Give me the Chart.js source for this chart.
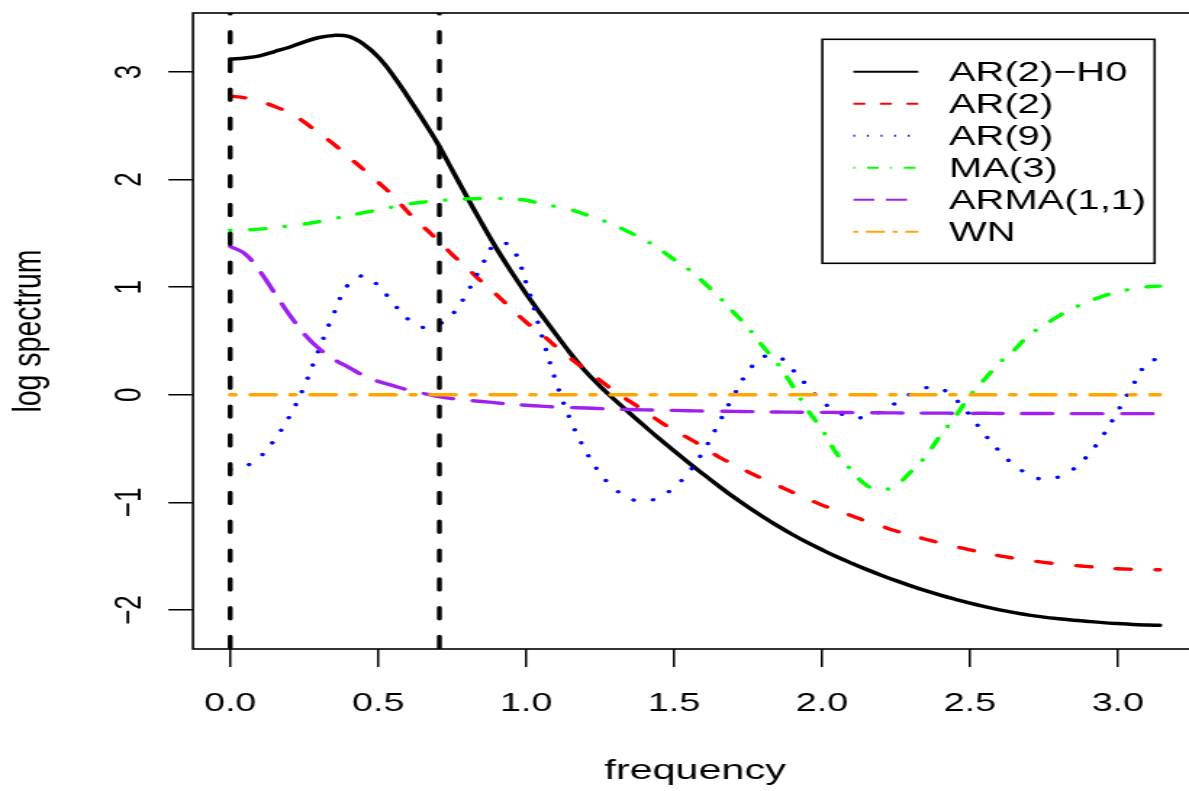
<!DOCTYPE html>
<html><head><meta charset="utf-8">
<script src="https://cdn.jsdelivr.net/npm/chart.js@4.4.1/dist/chart.umd.min.js"></script>
<style>
html,body{margin:0;padding:0;background:#fff;overflow:hidden;width:1189px;height:791px;}
#wrap{position:absolute;left:0;top:0;width:832px;height:791px;transform:scaleX(1.45);transform-origin:0 0;}
canvas{display:block;}
</style></head><body>
<div id="wrap"><canvas id="c" width="832" height="791"></canvas></div>
<script>
// ---------------- data ----------------
const freq = [0,0.05,0.1,0.15,0.2,0.25,0.3,0.35,0.4,0.45,0.5,0.55,0.6,0.65,0.7,0.75,0.8,0.85,0.9,0.95,
  1.0,1.05,1.1,1.15,1.2,1.25,1.3,1.35,1.4,1.45,1.5,1.55,1.6,1.65,1.7,1.75,1.8,1.85,1.9,1.95,
  2.0,2.05,2.1,2.15,2.2,2.25,2.3,2.35,2.4,2.45,2.5,2.55,2.6,2.65,2.7,2.75,2.8,2.85,2.9,2.95,
  3.0,3.05,3.1,3.1416];

const ar2H0 = [3.12,3.13,3.15,3.19,3.23,3.28,3.32,3.34,3.33,3.26,3.14,2.97,2.77,2.56,2.34,2.09,1.84,1.595,1.36,1.145,
  0.94,0.75,0.565,0.385,0.22,0.08,-0.048,-0.17,-0.29,-0.408,-0.522,-0.633,-0.74,-0.845,-0.948,-1.043,-1.133,-1.218,-1.298,-1.372,
  -1.44,-1.505,-1.565,-1.622,-1.676,-1.727,-1.775,-1.82,-1.862,-1.9,-1.936,-1.968,-1.998,-2.024,-2.047,-2.066,-2.081,-2.094,-2.106,-2.117,
  -2.126,-2.134,-2.139,-2.142];

const ar2 = [2.775,2.76,2.725,2.68,2.62,2.535,2.43,2.33,2.21,2.095,1.975,1.85,1.70,1.57,1.44,1.305,1.18,1.05,0.93,0.80,
  0.675,0.57,0.45,0.34,0.235,0.135,0.03,-0.06,-0.15,-0.245,-0.33,-0.405,-0.485,-0.575,-0.645,-0.715,-0.78,-0.842,-0.905,-0.965,
  -1.025,-1.075,-1.123,-1.175,-1.22,-1.265,-1.305,-1.342,-1.377,-1.41,-1.44,-1.47,-1.496,-1.518,-1.539,-1.557,-1.572,-1.585,-1.596,-1.607,
  -1.616,-1.621,-1.625,-1.626];

const ar9 = [-0.695,-0.665,-0.58,-0.416,-0.203,0.079,0.42,0.755,1.03,1.105,1.015,0.855,0.705,0.627,0.65,0.745,0.945,1.20,1.41,1.375,
  1.04,0.58,0.13,-0.235,-0.515,-0.73,-0.875,-0.965,-0.987,-0.952,-0.86,-0.72,-0.52,-0.27,-0.015,0.215,0.35,0.36,0.235,0.085,
  -0.06,-0.155,-0.21,-0.205,-0.155,-0.075,0.01,0.065,0.06,-0.038,-0.19,-0.368,-0.525,-0.655,-0.74,-0.788,-0.762,-0.69,-0.557,-0.377,
  -0.15,0.086,0.298,0.34];

const ma3 = [1.529,1.532,1.54,1.553,1.57,1.587,1.61,1.637,1.664,1.692,1.719,1.746,1.772,1.79,1.803,1.814,1.821,1.825,1.825,1.82,
  1.808,1.777,1.75,1.72,1.676,1.63,1.573,1.51,1.44,1.355,1.257,1.165,1.045,0.915,0.77,0.625,0.45,0.29,0.085,-0.135,
  -0.323,-0.547,-0.70,-0.84,-0.885,-0.84,-0.715,-0.572,-0.378,-0.205,-0.008,0.146,0.297,0.418,0.555,0.646,0.733,0.806,0.864,0.918,
  0.955,0.985,1.004,1.01];

const arma11 = [1.38,1.31,1.15,0.945,0.745,0.565,0.43,0.33,0.255,0.18,0.125,0.085,0.045,0.015,-0.015,-0.035,-0.05,-0.062,-0.075,-0.088,
  -0.097,-0.105,-0.113,-0.118,-0.123,-0.128,-0.133,-0.137,-0.14,-0.143,-0.145,-0.148,-0.15,-0.152,-0.154,-0.156,-0.158,-0.16,-0.161,-0.162,
  -0.163,-0.164,-0.165,-0.166,-0.167,-0.168,-0.169,-0.17,-0.17,-0.171,-0.172,-0.172,-0.173,-0.173,-0.174,-0.174,-0.174,-0.175,-0.175,-0.175,
  -0.175,-0.175,-0.175,-0.175];

const wnFreq = [0, 3.1416];
const wn = [0, 0];

const vlines = [0, 0.707];

const seriesNames = ['AR(2)\u2212H0','AR(2)','AR(9)','MA(3)','ARMA(1,1)','WN'];
const xTicksStep = 0.5;
const yTicksStep = 1;
const X_MIN = -0.1257, X_MAX = 3.2673;
const Y_MIN = -2.362, Y_MAX = 3.548;

// ---------------- styles ----------------
const colors = ['#000000','#FF0000','#0000FF','#00FF00','#A020F0','#FFA500'];
const dashes = [[], [10.4,17.2], [0.05,13.75], [0.05,13.75,10.4,13.75], [20.75,13.75], [3.5,10.3,17.3,10.3]];
const legendDashes = [[], [8.3,10], [1.2,8.2], [1.2,8.3,8.1,7.7], [14.5,8], [3.4,5.3,13.1,5.3]];
const FONT = "'Liberation Sans', Arial, Helvetica, sans-serif";

const pts = (xs, ys) => xs.map((x, i) => ({x: x, y: ys[i]}));
const seriesData = [pts(freq, ar2H0), pts(freq, ar2), pts(freq, ar9), pts(freq, ma3), pts(freq, arma11), pts(wnFreq, wn)];

const datasets = seriesData.map((d, i) => ({
  label: seriesNames[i],
  data: d,
  borderColor: colors[i],
  borderWidth: i === 0 ? 3.5 : 3.4,
  borderDash: dashes[i],
  borderCapStyle: 'round',
  borderJoinStyle: 'round',
  pointRadius: 0,
  fill: false,
  tension: 0.4,
  order: 10 - i
}));
vlines.forEach((v) => {
  datasets.push({
    label: '_v' + v,
    data: [{x: v, y: Y_MAX}, {x: v, y: Y_MIN}],
    borderColor: '#000',
    borderWidth: 3.4,
    borderDash: [11, 17.8],
    borderDashOffset: 10.1,
    borderCapStyle: 'round',
    pointRadius: 0,
    tension: 0,
    fill: false,
    order: 1
  });
});

const boxPlugin = {
  id: 'rbox',
  afterDatasetsDraw(chart) {
    const a = chart.chartArea, ctx = chart.ctx;
    ctx.save();
    ctx.strokeStyle = '#000';
    ctx.lineWidth = 1.6;
    ctx.strokeRect(a.left, a.top, a.right - a.left, a.bottom - a.top);
    ctx.restore();
  }
};

const legendPlugin = {
  id: 'rlegend',
  afterDraw(chart) {
    const ctx = chart.ctx;
    const L = {left: 567.1, top: 39.3, right: 796.3, bottom: 263.3, x1: 588.5, x2: 633.3, tx: 654.5, y0: 71.7, dy: 32};
    ctx.save();
    ctx.fillStyle = '#fff';
    ctx.fillRect(L.left, L.top, L.right - L.left, L.bottom - L.top);
    ctx.strokeStyle = '#000';
    ctx.lineWidth = 1.6;
    ctx.strokeRect(L.left, L.top, L.right - L.left, L.bottom - L.top);
    ctx.font = '27.5px ' + FONT;
    ctx.textBaseline = 'middle';
    ctx.textAlign = 'left';
    seriesNames.forEach((name, i) => {
      const y = L.y0 + i * L.dy;
      ctx.beginPath();
      ctx.setLineDash(legendDashes[i]);
      ctx.lineCap = 'butt';
      ctx.lineWidth = 2;
      ctx.strokeStyle = colors[i];
      ctx.moveTo(L.x1, y);
      ctx.lineTo(L.x2, y);
      ctx.stroke();
      ctx.setLineDash([]);
      ctx.fillStyle = '#000';
      ctx.fillText(name, L.tx, y + 1.3);
    });
    ctx.restore();
  }
};

new Chart(document.getElementById('c'), {
  type: 'line',
  data: {datasets: datasets},
  plugins: [boxPlugin, legendPlugin],
  options: {
    responsive: false,
    animation: false,
    devicePixelRatio: 1,
    layout: {padding: {left: 0, top: 13, right: 6.5, bottom: 0}},
    plugins: {legend: {display: false}, tooltip: {enabled: false}},
    scales: {
      x: {
        type: 'linear', min: X_MIN, max: X_MAX,
        afterFit(s) { s.height = 142; s.paddingLeft = 0; s.paddingRight = 0; },
        ticks: {stepSize: xTicksStep, includeBounds: false, autoSkip: false, maxRotation: 0, minRotation: 0,
          callback: (v) => Number(v).toFixed(1), color: '#000', padding: 21.4,
          font: {family: FONT, size: 26}},
        grid: {display: true, drawOnChartArea: false, drawTicks: true, tickLength: 18, color: '#000', lineWidth: 1.5},
        border: {display: false},
        title: {display: true, text: 'frequency', color: '#000', font: {family: FONT, size: 28.5}, padding: {top: 0, bottom: 3}}
      },
      y: {
        type: 'linear', min: Y_MIN, max: Y_MAX,
        afterFit(s) { s.width = 133.1; s.paddingTop = 0; s.paddingBottom = 0; },
        ticks: {stepSize: yTicksStep, includeBounds: false, autoSkip: false, minRotation: 90, maxRotation: 90,
          crossAlign: 'center', padding: 11.6, color: '#000',
          callback: (v) => (v < 0 ? '\u2212' + Math.abs(v) : String(v)),
          font: {family: FONT, size: 26}},
        grid: {display: true, drawOnChartArea: false, drawTicks: true, tickLength: 17, color: '#000', lineWidth: 1.5},
        border: {display: false},
        title: {display: true, text: 'log spectrum', color: '#000', font: {family: FONT, size: 28.5}, padding: {top: 3, bottom: 0}}
      }
    }
  }
});
</script>
</body></html>
